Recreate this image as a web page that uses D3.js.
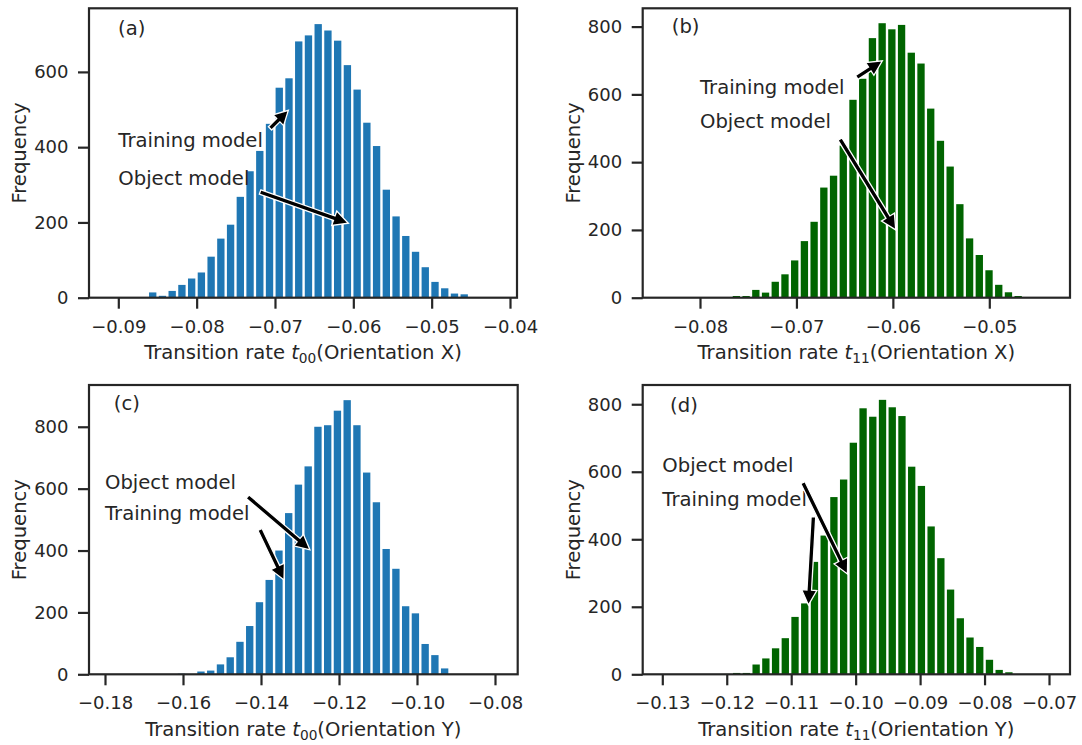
<!DOCTYPE html>
<html>
<head>
<meta charset="utf-8">
<script src="https://cdn.jsdelivr.net/npm/d3@7"></script>
<style>
  body { margin: 0; background: #fff; }
  svg { display: block; }
</style>
</head>
<body>
<svg id="chart" width="1082" height="745"></svg>
<script>
// ---- Histogram data: counts per bin, bins start at binStart and step by binWidth ----
const countsA = [14, 5, 18, 34, 51, 67, 109, 157, 194, 268, 336, 390, 462, 558, 583, 681, 697, 727, 710, 683, 618, 553, 465, 403, 287, 216, 164, 122, 81, 42, 25, 11, 9];
const binStartA = -0.08623, binWidthA = 0.0012426;

const countsB = [5, 5, 23, 15, 47, 69, 110, 167, 224, 325, 360, 449, 584, 646, 766, 810, 792, 805, 723, 691, 558, 463, 387, 276, 175, 126, 81, 38, 16, 5];
const binStartB = -0.07673, binWidthB = 0.0010076;

const countsC = [2, 0, 9, 12, 32, 55, 105, 156, 233, 305, 400, 521, 613, 672, 800, 805, 852, 886, 805, 652, 556, 405, 341, 220, 197, 98, 62, 19];
const binStartC = -0.16164, binWidthC = 0.0024992;

const countsD = [1, 4, 4, 29, 47, 77, 107, 170, 210, 333, 411, 525, 577, 686, 788, 763, 813, 791, 765, 615, 558, 438, 344, 251, 166, 109, 81, 43, 13, 6];
const binStartD = -0.12072, binWidthD = 0.0015084;

// ---- Axis limits and ticks ----
const xLimA = [-0.093742, -0.039106], yLimA = [0, 769];
const xLimB = [-0.085942, -0.041631], yLimB = [0, 854];
const xLimC = [-0.184103, -0.074179], yLimC = [0, 935];
const xLimD = [-0.133041, -0.066742], yLimD = [0, 857];

const xTicksA = [-0.09, -0.08, -0.07, -0.06, -0.05, -0.04];
const xTicksB = [-0.08, -0.07, -0.06, -0.05];
const xTicksC = [-0.18, -0.16, -0.14, -0.12, -0.10, -0.08];
const xTicksD = [-0.13, -0.12, -0.11, -0.10, -0.09, -0.08, -0.07];
const yTicksA = [0, 200, 400, 600];
const yTicksBCD = [0, 200, 400, 600, 800];

// ---- Axis titles ----
const xLabelA = { sub: "00", orient: "X" };
const xLabelB = { sub: "11", orient: "X" };
const xLabelC = { sub: "00", orient: "Y" };
const xLabelD = { sub: "11", orient: "Y" };
const yLabel = "Frequency";
const panelTags = ["(a)", "(b)", "(c)", "(d)"];

// ---- Annotations (data coordinates: text anchor, arrow tail, arrow tip) ----
const notesA = [
  { text: "Training model", at: [-0.09, 400], tail: [-0.07063, 450], tip: [-0.06829, 498] },
  { text: "Object model",   at: [-0.09, 300], tail: [-0.0719, 281],  tip: [-0.06063, 198] }
];
const notesB = [
  { text: "Training model", at: [-0.08, 600], tail: [-0.06374, 650], tip: [-0.06109, 699] },
  { text: "Object model",   at: [-0.08, 500], tail: [-0.06548, 468], tip: [-0.0597, 200] }
];
const notesC = [
  { text: "Object model",   at: [-0.18, 600], tail: [-0.14341, 574], tip: [-0.12744, 402] },
  { text: "Training model", at: [-0.18, 500], tail: [-0.14026, 468], tip: [-0.1341, 305] }
];
const notesD = [
  { text: "Object model",   at: [-0.13, 600], tail: [-0.1082, 568],  tip: [-0.10127, 297] },
  { text: "Training model", at: [-0.13, 500], tail: [-0.10655, 467], tip: [-0.10733, 205] }
];

// ---- Styling ----
const FONT = "'DejaVu Sans', 'Liberation Sans', sans-serif";
const INK = "#262626";
const BLUE = "#1f77b4";
const GREEN = "#006400";

const svg = d3.select("#chart");

const panels = [
  { box: { left: 89, right: 517, top: 8.3, bottom: 297.7 }, counts: countsA, start: binStartA, width: binWidthA,
    xLim: xLimA, yLim: yLimA, xTicks: xTicksA, yTicks: yTicksA, color: BLUE, xl: xLabelA, notes: notesA,
    tag: panelTags[0], tagPos: [0.068, 0.907] },
  { box: { left: 642.7, right: 1070, top: 8.3, bottom: 297.7 }, counts: countsB, start: binStartB, width: binWidthB,
    xLim: xLimB, yLim: yLimB, xTicks: xTicksB, yTicks: yTicksBCD, color: GREEN, xl: xLabelB, notes: notesB,
    tag: panelTags[1], tagPos: [0.068, 0.913] },
  { box: { left: 89, right: 517.7, top: 385, bottom: 674.3 }, counts: countsC, start: binStartC, width: binWidthC,
    xLim: xLimC, yLim: yLimC, xTicks: xTicksC, yTicks: yTicksBCD, color: BLUE, xl: xLabelC, notes: notesC,
    tag: panelTags[2], tagPos: [0.058, 0.914] },
  { box: { left: 642.7, right: 1070, top: 385, bottom: 674.3 }, counts: countsD, start: binStartD, width: binWidthD,
    xLim: xLimD, yLim: yLimD, xTicks: xTicksD, yTicks: yTicksBCD, color: GREEN, xl: xLabelD, notes: notesD,
    tag: panelTags[3], tagPos: [0.064, 0.908] }
];

const fmtX = v => (v < 0 ? "\u2212" : "") + Math.abs(v).toFixed(2);
const fmtY = d3.format("d");

// Filled arrow (shaft + triangular head) from tail to tip, in pixels
function arrowPoints(x1, y1, x2, y2) {
  const dx = x2 - x1, dy = y2 - y1;
  const L = Math.hypot(dx, dy);
  const ux = dx / L, uy = dy / L, nx = -uy, ny = ux;
  const sw = 2.3, hw = 7.6, hl = Math.min(15, L * 0.55);
  const bx = x2 - ux * hl, by = y2 - uy * hl;
  const p = [
    [x1 + nx * sw, y1 + ny * sw],
    [bx + nx * sw, by + ny * sw],
    [bx + nx * hw, by + ny * hw],
    [x2, y2],
    [bx - nx * hw, by - ny * hw],
    [bx - nx * sw, by - ny * sw],
    [x1 - nx * sw, y1 - ny * sw]
  ];
  return p.map(q => q.join(",")).join(" ");
}

panels.forEach(cfg => {
  const b = cfg.box;
  const x = d3.scaleLinear().domain(cfg.xLim).range([b.left, b.right]);
  const y = d3.scaleLinear().domain(cfg.yLim).range([b.bottom, b.top]);
  const g = svg.append("g");

  // bars
  const bins = cfg.counts.map((c, i) => ({ x0: cfg.start + i * cfg.width, x1: cfg.start + (i + 1) * cfg.width, c }));
  const inset = 1.2;
  g.append("g").selectAll("rect")
    .data(bins.filter(d => d.c > 0))
    .join("rect")
    .attr("x", d => x(d.x0) + inset)
    .attr("width", d => x(d.x1) - x(d.x0) - 2 * inset)
    .attr("y", d => y(d.c))
    .attr("height", d => y(0) - y(d.c))
    .attr("fill", cfg.color);

  // axes
  const xAxis = d3.axisBottom(x).tickValues(cfg.xTicks).tickFormat(fmtX)
    .tickSize(11).tickPadding(11.2).tickSizeOuter(0);
  const yAxis = d3.axisLeft(y).tickValues(cfg.yTicks).tickFormat(fmtY)
    .tickSize(11).tickPadding(9.5).tickSizeOuter(0);

  const gx = g.append("g").attr("transform", `translate(0,${b.bottom})`).call(xAxis);
  const gy = g.append("g").attr("transform", `translate(${b.left},0)`).call(yAxis);
  [gx, gy].forEach(a => {
    a.select(".domain").remove();
    a.selectAll(".tick line").attr("stroke", INK).attr("stroke-width", 2.2);
    a.selectAll(".tick text").attr("fill", INK).style("font-family", FONT).style("font-size", "18px");
  });

  // frame
  g.append("rect")
    .attr("x", b.left).attr("y", b.top)
    .attr("width", b.right - b.left).attr("height", b.bottom - b.top)
    .attr("fill", "none").attr("stroke", INK).attr("stroke-width", 2.2);

  // x axis title with math-style subscript
  const xt = g.append("text")
    .attr("x", (b.left + b.right) / 2).attr("y", b.bottom + 61.5)
    .attr("text-anchor", "middle").attr("fill", INK)
    .style("font-family", FONT).style("font-size", "19.6px");
  xt.append("tspan").text("Transition rate ");
  xt.append("tspan").attr("font-style", "italic").text("t");
  xt.append("tspan").attr("dy", 4.2).style("font-size", "13.7px").text(cfg.xl.sub);
  xt.append("tspan").attr("dy", -4.2).text(`(Orientation ${cfg.xl.orient})`);

  // y axis title
  const cy = (b.top + b.bottom) / 2;
  g.append("text")
    .attr("transform", `translate(${b.left - 63},${cy}) rotate(-90)`)
    .attr("text-anchor", "middle").attr("fill", INK)
    .style("font-family", FONT).style("font-size", "19.6px")
    .text(yLabel);

  // panel tag
  g.append("text")
    .attr("x", b.left + cfg.tagPos[0] * (b.right - b.left))
    .attr("y", b.bottom - cfg.tagPos[1] * (b.bottom - b.top))
    .attr("fill", INK)
    .style("font-family", FONT).style("font-size", "19.6px")
    .text(cfg.tag);

  // annotation texts
  g.append("g").selectAll("text")
    .data(cfg.notes)
    .join("text")
    .attr("x", d => x(d.at[0]))
    .attr("y", d => y(d.at[1]))
    .attr("fill", INK)
    .style("font-family", FONT).style("font-size", "19.6px")
    .text(d => d.text);

  // annotation arrows
  g.append("g").selectAll("polygon")
    .data(cfg.notes)
    .join("polygon")
    .attr("points", d => arrowPoints(x(d.tail[0]), y(d.tail[1]), x(d.tip[0]), y(d.tip[1])))
    .attr("fill", "#000")
    .attr("stroke", "#fff")
    .attr("stroke-width", 1.3)
    .attr("stroke-linejoin", "miter");
});
</script>
</body>
</html>
